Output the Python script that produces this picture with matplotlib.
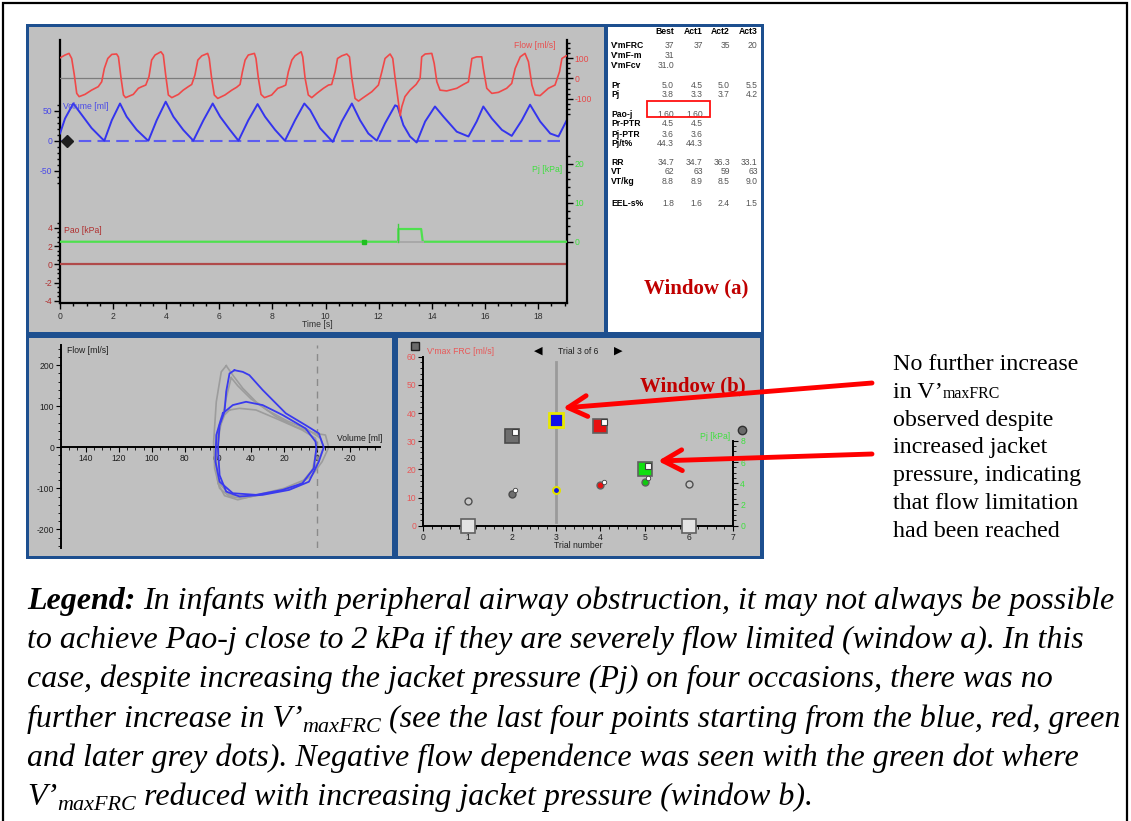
import matplotlib
matplotlib.use('Agg')
import matplotlib.pyplot as plt
from matplotlib.patches import Rectangle, FancyArrowPatch
from matplotlib.lines import Line2D
from matplotlib.ticker import FixedLocator
import matplotlib.transforms as mtransforms
import numpy as np

plt.rcParams['font.family'] = ['Liberation Sans', 'DejaVu Sans']
plt.rcParams['axes.unicode_minus'] = False

# ---------------- data ----------------
# waveform window (time in s)
flow_t = [0.00, 0.19, 0.34, 0.44, 0.54, 0.63, 0.72, 0.94, 1.19, 1.44,
          1.57, 1.67, 1.80, 1.95, 2.13, 2.20, 2.30, 2.39, 2.47, 2.76,
          2.95, 3.08, 3.23, 3.35, 3.45, 3.58, 3.80, 3.89, 3.98, 4.08,
          4.21, 4.46, 4.64, 4.83, 4.96, 5.08, 5.19, 5.34, 5.56, 5.62,
          5.71, 5.81, 5.94, 6.21, 6.47, 6.65, 6.78, 6.87, 6.97, 7.09,
          7.32, 7.38, 7.47, 7.57, 7.70, 7.97, 8.20, 8.37, 8.50, 8.60,
          8.73, 8.85, 9.08, 9.14, 9.23, 9.35, 9.48, 9.67, 9.92, 10.11,
          10.23, 10.36, 10.45, 10.61, 10.80, 10.90, 10.99, 11.11, 11.24, 11.42,
          11.74, 11.99, 12.12, 12.24, 12.43, 12.53, 12.62, 12.74, 12.81, 12.87,
          12.99, 13.18, 13.41, 13.56, 13.62, 13.75, 14.00, 14.09, 14.19, 14.31,
          14.56, 14.94, 15.19, 15.38, 15.51, 15.69, 15.88, 15.94, 16.07, 16.26,
          16.51, 16.82, 17.01, 17.14, 17.33, 17.51, 17.64, 17.77, 17.89, 18.08,
          18.39, 18.64, 18.81, 18.90, 19.06]
flow_ml_s = [101, 115, 123, 98, 16, -74, -90, -79, -58, -41,
             -17, 49, 98, 118, 120, 106, 0, -82, -95, -79,
             -49, -41, -33, 8, 90, 115, 131, 115, 16, -82,
             -95, -79, -58, -41, -30, 16, 90, 111, 123, 98,
             0, -82, -99, -82, -58, -44, -30, 33, 90, 115,
             123, 98, 0, -79, -95, -82, -49, -41, -33, 33,
             90, 111, 131, 106, 0, -82, -95, -74, -49, -33,
             -30, 33, 98, 111, 120, 106, 0, -99, -112, -95,
             -66, -33, 33, 98, 120, 98, 0, -115, -184, -140,
             -90, -58, -30, 0, 106, 120, 123, 74, -17, -58,
             -62, -49, -30, -17, 98, 106, 106, 49, -49, -74,
             -69, -49, -25, 49, 106, 123, 82, -33, -82, -85,
             -49, -33, 33, 98, 111]

vol_t = [0.00, 0.19, 0.50, 0.82, 1.19, 1.57, 1.67, 1.95, 2.26, 2.51,
         2.89, 3.27, 3.33, 3.64, 3.98, 4.27, 4.64, 5.02, 5.40, 5.75,
         6.03, 6.40, 6.72, 7.09, 7.44, 7.72, 8.10, 8.47, 8.85, 9.20,
         9.42, 9.79, 10.27, 10.61, 10.99, 11.30, 11.61, 11.93, 12.24, 12.62,
         12.71, 12.93, 13.18, 13.43, 13.75, 14.12, 14.44, 14.94, 15.38, 15.69,
         15.94, 16.26, 16.64, 17.01, 17.39, 17.70, 18.08, 18.46, 18.77, 19.08]
volume_ml = [12, 37, 62, 43, 21, 4, 0, 34, 62, 40,
             18, 2, 0, 34, 65, 40, 18, 0, 34, 62,
             40, 18, 0, 34, 61, 40, 18, 0, 34, 62,
             51, 21, -2, 32, 62, 34, 12, 0, 29, 59,
             57, 26, 7, -3, 32, 57, 40, 15, 7, 32,
             57, 37, 18, 8, 34, 60, 32, 12, 7, 34]

pj_t = [0.0, 12.74, 12.74, 13.60, 13.66, 19.08]
pj_kpa = [0.0, 0.0, 3.26, 3.26, 0.0, 0.0]
pj_marker_t = [11.46]
pao_t = [0.0, 19.08]
pao_kpa = [0.0, 0.0]
cursor_t = [0.27]

# flow-volume loops (volume ml, flow ml/s)
blue1_vol = [50, 45, 41, 33, 19, 7, -1, -4, -1, 5, 17, 33, 47, 55, 59, 60, 59, 56, 55, 53, 50]
blue1_flow = [188, 184, 176, 140, 83, 54, 34, 0, -35, -84, -104, -116, -120, -108, -68, -2, 54, 87, 136, 180, 188]
blue2_vol = [57, 51, 43, 33, 21, 7, 1, 0.5, 2, 9, 21, 37, 51, 59, 61.5, 61, 58, 57]
blue2_flow = [83, 103, 111, 103, 79, 46, 14, -2, -51, -88, -104, -116, -112, -84, -35, 30, 71, 83]
gray1_vol = [55, 51, 45, 37, 25, 13, 1, -5, -7, -3, 3, 13, 29, 45, 53, 59, 62, 62.6, 61, 58, 55]
gray1_flow = [199, 176, 144, 111, 75, 50, 34, 30, 0, -35, -68, -96, -112, -124, -120, -100, -51, 13, 111, 184, 199]
gray2_vol = [53, 47, 37, 23, 9, 1, 0, 3, 11, 25, 41, 53, 60, 62, 60, 56, 53]
gray2_flow = [91, 95, 91, 67, 42, 22, 0, -59, -92, -108, -120, -116, -84, -19, 38, 79, 91]
gray3_vol = [52, 48, 40, 30, 18, 6, -2, -4, 0, 8, 20, 34, 48, 56, 60, 61, 59, 55, 52]
gray3_flow = [170, 150, 118, 90, 64, 44, 22, 0, -40, -80, -100, -114, -128, -118, -88, -30, 40, 120, 170]

# trials window
trials = [1, 2, 3, 4, 5, 6]
vmax_frc = [0, 32, 37.5, 35.5, 20, 0]
pj_trial = [2.3, 3.0, 3.4, 3.8, 4.15, 3.95]
has_copy = [False, True, False, True, True, False]
selected_trial = 3
sq_face = ['#e2e2e2', '#6e6e6e', '#1010e8', '#e81010', '#10e010', '#e2e2e2']
sq_edge = ['#606060', '#4a4a4a', '#e8e800', '#606060', '#606060', '#606060']
ci_face = ['#c8c8c8', '#6e6e6e', '#1010e8', '#e81010', '#10c810', '#c8c8c8']
ci_edge = ['#505050', '#4a4a4a', '#e0e000', '#606060', '#606060', '#505050']

# table
tbl_header = ["Best", "Act1", "Act2", "Act3"]
tbl_rows = ["V'mFRC", "V'mF-m", "V'mFcv", "Pr", "Pj", "Pao-j", "Pr-PTR", "Pj-PTR",
            "Pj/t%", "RR", "VT", "VT/kg", "EEL-s%"]
tbl_vals = [["37", "37", "35", "20"],
            ["31", "", "", ""],
            ["31.0", "", "", ""],
            ["5.0", "4.5", "5.0", "5.5"],
            ["3.8", "3.3", "3.7", "4.2"],
            ["1.60", "1.60", "", ""],
            ["4.5", "4.5", "", ""],
            ["3.6", "3.6", "", ""],
            ["44.3", "44.3", "", ""],
            ["34.7", "34.7", "36.3", "33.1"],
            ["62", "63", "59", "63"],
            ["8.8", "8.9", "8.5", "9.0"],
            ["1.8", "1.6", "2.4", "1.5"]]

# rich text: each segment is (text, kind); kind 'n' normal, 's' subscript, 'b' bold
annot_lines = [[("No further increase", 'n')],
               [("in V\u2019", 'n'), ("maxFRC", 's')],
               [("observed despite", 'n')],
               [("increased jacket", 'n')],
               [("pressure, indicating", 'n')],
               [("that flow limitation", 'n')],
               [("had been reached", 'n')]]
legend_lines = [[("Legend:", 'b'), (" In infants with peripheral airway obstruction, it may not always be possible", 'n')],
                [("to achieve Pao-j close to 2 kPa if they are severely flow limited (window a). In this", 'n')],
                [("case, despite increasing the jacket pressure (Pj) on four occasions, there was no", 'n')],
                [("further increase in V\u2019", 'n'), ("maxFRC", 's'),
                 (" (see the last four points starting from the blue, red, green", 'n')],
                [("and later grey dots). Negative flow dependence was seen with the green dot where", 'n')],
                [("V\u2019", 'n'), ("maxFRC", 's'), (" reduced with increasing jacket pressure (window b).", 'n')]]

# ---------------- figure ----------------
W, H = 1131, 821
fig = plt.figure(figsize=(W / 100, H / 100), dpi=100)
fig.patch.set_facecolor('white')
R = fig.canvas.get_renderer()


def ax_px(l, t, r, b, label):
    return fig.add_axes([l / W, 1 - b / H, (r - l) / W, (b - t) / H], label=label)


def rect(l, t, r, b, **kw):
    p = Rectangle((l / W, 1 - b / H), (r - l) / W, (b - t) / H, transform=fig.transFigure, **kw)
    fig.add_artist(p)
    return p


def ftext(x, y, s, **kw):
    return fig.text(x / W, 1 - y / H, s, **kw)


def rich_line(x, y, segs, fs, sub_fs, sub_dy, style):
    cur = x
    for s, kind in segs:
        size = sub_fs if kind == 's' else fs
        space_w = 0.25 * size * 100 / 72
        lead = len(s) - len(s.lstrip(' '))
        trail = len(s) - len(s.rstrip(' '))
        cur += lead * space_w
        yy = y + (sub_dy if kind == 's' else 0)
        t = ftext(cur, yy, s.strip(), family='Liberation Serif', style=style,
                  weight='bold' if kind == 'b' else 'normal', fontsize=size,
                  color='black', ha='left', va='baseline')
        cur = t.get_window_extent(R).x1 + trail * space_w


# frame and panels
rect(3, 3, 1127, 900, fill=False, ec='black', lw=1.6, zorder=-11)
rect(26, 24, 764, 559, fc='#1d4f8f', ec='none', zorder=-10)
BG = '#c0c0c0'
rect(29, 27.5, 603.5, 332, fc=BG, ec='none', zorder=-9)
rect(608, 27.5, 761, 332, fc='white', ec='none', zorder=-9)
rect(29, 338, 391.5, 555.5, fc=BG, ec='none', zorder=-9)
rect(398, 338, 760, 555.5, fc=BG, ec='none', zorder=-9)

UI = dict(family=['Liberation Sans', 'DejaVu Sans'])
UFS = 6.2

# ---------------- waveform window ----------------
XMAX = 19.08
box = (60, 40, 566.7, 303)
ax_v = ax_px(*box, 'vol')
ax_pao = ax_px(*box, 'pao')
ax_f = ax_px(*box, 'flow')
ax_pj = ax_px(*box, 'pj')
for a in (ax_v, ax_pao, ax_f, ax_pj):
    a.set_facecolor('none')
    a.set_xlim(0, XMAX)
    for s in a.spines.values():
        s.set_visible(False)
    a.tick_params(which='both', direction='out', width=1, color='black', labelsize=UFS, pad=1.5)
    a.tick_params(which='major', length=4)
    a.tick_params(which='minor', length=2.5)
ax_v.set_ylim(-270.5, 167.8)
ax_pao.set_ylim(-4.25, 24.65)
ax_f.set_ylim(-1107, 189)
ax_pj.set_ylim(-15.7, 51.7)

ax_v.spines['left'].set_visible(True)
ax_v.spines['bottom'].set_visible(True)
ax_v.spines['left'].set_linewidth(1.6)
ax_v.spines['bottom'].set_linewidth(1.6)
ax_v.set_xticks(np.arange(0, 19, 2))
ax_v.xaxis.set_minor_locator(FixedLocator(np.arange(0, 19.01, 0.5)))
ax_v.tick_params(axis='x', labelcolor='#303030', pad=2.5)
ax_v.set_yticks([-50, 0, 50])
ax_v.yaxis.set_minor_locator(FixedLocator(np.arange(-70, 61, 10)))
ax_v.tick_params(axis='y', labelcolor='#4a4ae8')

ax_pao.tick_params(axis='x', which='both', bottom=False, labelbottom=False)
ax_pao.set_yticks([-4, -2, 0, 2, 4])
ax_pao.yaxis.set_minor_locator(FixedLocator(np.arange(-4.5, 4.6, 0.5)))
ax_pao.tick_params(axis='y', labelcolor='#b03030')

for a in (ax_f, ax_pj):
    a.tick_params(axis='x', which='both', bottom=False, labelbottom=False)
    a.yaxis.tick_right()
ax_f.spines['right'].set_visible(True)
ax_f.spines['right'].set_linewidth(1.6)
ax_f.set_yticks([-100, 0, 100])
ax_f.yaxis.set_minor_locator(FixedLocator(np.arange(-175, 176, 25)))
ax_f.tick_params(axis='y', labelcolor='#e84a4a')
ax_pj.set_yticks([0, 10, 20])
ax_pj.yaxis.set_minor_locator(FixedLocator(np.arange(0, 23, 2)))
ax_pj.tick_params(axis='y', labelcolor='#3ee03e')

ax_f.axhline(0, color='#7c7c7c', lw=0.9, zorder=1)
ax_f.plot(flow_t, flow_ml_s, color='#f04848', lw=1.2, zorder=3)
ax_v.axhline(0, color='#5c5cf0', lw=1.5, ls=(0, (6, 3)), zorder=2)
ax_v.plot(vol_t, volume_ml, color='#3434ee', lw=1.4, zorder=3)
ax_v.plot(cursor_t, [0], marker='D', ms=6.5, color='#1e1e1e', zorder=4, clip_on=False)
ax_pao.plot(pao_t, pao_kpa, color='#b04a4a', lw=1.6)
ax_pj.plot(pj_t, pj_kpa, color='#4ee04e', lw=1.6, zorder=3)
ax_pj.plot([pj_t[1], pj_t[4]], [0, 0], color='#a8a8a8', lw=1.4, zorder=4)
ax_pj.plot([pj_t[1], pj_t[1]], [0, 4.6], color='#3ed03e', lw=1.0, zorder=4)
ax_pj.plot(pj_marker_t, [0], marker='s', ms=2.5, color='#20c020', zorder=4)

ftext(555, 45, "Flow [ml/s]", color='#e85050', fontsize=UFS, ha='right', va='center', **UI)
ftext(63, 106.5, "Volume [ml]", color='#4a4ae8', fontsize=UFS, ha='left', va='center', **UI)
ftext(562, 169, "Pj [kPa]", color='#3ee03e', fontsize=UFS, ha='right', va='center', **UI)
ftext(64, 230.5, "Pao [kPa]", color='#b03030', fontsize=UFS, ha='left', va='center', **UI)
ftext(317, 324, "Time [s]", color='#303030', fontsize=UFS, ha='center', va='center', **UI)

# ---------------- table ----------------
col_right = [674, 702.7, 730, 757.7]
row_y = [45, 55, 65, 85, 94.5, 114.3, 124, 134, 143.3, 162.3, 171.7, 181.5, 204]
for j, h in enumerate(tbl_header):
    ftext(col_right[j], 31.5, h, fontsize=UFS, weight='bold', ha='right', va='center', color='black', **UI)
for i, lab in enumerate(tbl_rows):
    ftext(611, row_y[i], lab, fontsize=UFS, weight='bold', ha='left', va='center', color='black', **UI)
    for j, v in enumerate(tbl_vals[i]):
        if v:
            ftext(col_right[j], row_y[i], v, fontsize=UFS, ha='right', va='center', color='#555555', **UI)
rect(646.7, 101, 710.3, 117.3, fill=False, ec='#ff1010', lw=1.3, zorder=5)
ftext(696, 288, "Window (a)", family='Liberation Serif', weight='bold', fontsize=15,
      color='#c00000', ha='center', va='center')

# ---------------- flow-volume loops ----------------
ax_lp = ax_px(61, 345, 380, 548, 'loop')
ax_lp.set_facecolor('none')
ax_lp.set_xlim(154.9, -38)
ax_lp.set_ylim(-245.6, 249.5)
ax_lp.spines['top'].set_visible(False)
ax_lp.spines['right'].set_visible(False)
ax_lp.spines['bottom'].set_position(('data', 0))
for s in ('left', 'bottom'):
    ax_lp.spines[s].set_linewidth(1.4)
ax_lp.set_xticks([140, 120, 100, 80, 60, 40, 20, 0, -20])
ax_lp.xaxis.set_minor_locator(FixedLocator(np.arange(-35, 151, 5)))
ax_lp.set_yticks([-200, -100, 0, 100, 200])
ax_lp.yaxis.set_minor_locator(FixedLocator(np.arange(-240, 241, 20)))
ax_lp.tick_params(which='both', direction='out', labelsize=UFS, labelcolor='#202020', pad=1.5)
ax_lp.tick_params(which='major', length=3.5)
ax_lp.tick_params(which='minor', length=2)
ax_lp.axvline(0, color='#8a8a8a', lw=1.0, ls=(0, (5, 4)), zorder=1)
for v, f in ((gray1_vol, gray1_flow), (gray2_vol, gray2_flow), (gray3_vol, gray3_flow)):
    ax_lp.plot(v, f, color='#9c9c9c', lw=1.2, zorder=2)
for v, f in ((blue1_vol, blue1_flow), (blue2_vol, blue2_flow)):
    ax_lp.plot(v, f, color='#3a3aee', lw=1.3, zorder=3)
ax_lp.text(-26, 22, "Volume [ml]", fontsize=UFS, ha='center', va='center', color='#202020', **UI)
ax_lp.text(151, 237, "Flow [ml/s]", fontsize=UFS, ha='left', va='center', color='#202020', **UI)

# ---------------- trials window ----------------
ax_tr = ax_px(423.3, 356.7, 733.3, 525.7, 'trial')
ax_tr.set_facecolor('none')
ax_tr.set_xlim(0, 7)
ax_tr.set_ylim(0, 60)
ax_tr.spines['top'].set_visible(False)
ax_tr.spines['right'].set_visible(False)
for s in ('left', 'bottom'):
    ax_tr.spines[s].set_linewidth(1.4)
ax_tr.set_xticks(range(0, 8))
ax_tr.xaxis.set_minor_locator(FixedLocator(np.arange(0, 7.01, 0.2)))
ax_tr.set_yticks(range(0, 61, 10))
ax_tr.yaxis.set_minor_locator(FixedLocator(np.arange(0, 61, 2)))
ax_tr.tick_params(which='both', direction='out', labelsize=UFS, pad=1.5)
ax_tr.tick_params(which='major', length=3.5)
ax_tr.tick_params(which='minor', length=2)
ax_tr.tick_params(axis='y', labelcolor='#e85858')
ax_tr.tick_params(axis='x', labelcolor='#202020')

ax_tr2 = ax_tr.twinx()
ax_tr2.set_ylim(0, 15.94)
for s in ('left', 'top', 'bottom'):
    ax_tr2.spines[s].set_visible(False)
ax_tr2.spines['right'].set_bounds(0, 8)
ax_tr2.spines['right'].set_linewidth(1.4)
ax_tr2.set_yticks([0, 2, 4, 6, 8])
ax_tr2.yaxis.set_minor_locator(FixedLocator(np.arange(0, 8.01, 0.5)))
ax_tr2.tick_params(which='both', direction='out', labelsize=UFS, pad=1.5, labelcolor='#3ee03e')
ax_tr2.tick_params(which='major', length=3.5)
ax_tr2.tick_params(which='minor', length=2)

ax_tr.axvline(selected_trial, ymin=0.024, ymax=0.97, color='#9a9a9a', lw=2, zorder=1)

off = mtransforms.ScaledTranslation(3.5 / 100, 3.5 / 100, fig.dpi_scale_trans)
for i, tr in enumerate(trials):
    ax_tr.plot([tr], [vmax_frc[i]], marker='s', ms=10, mfc=sq_face[i], mec=sq_edge[i],
               mew=2.0 if tr == selected_trial else 1.2, clip_on=False, zorder=5)
    ax_tr2.plot([tr], [pj_trial[i]], marker='o', ms=5, mfc=ci_face[i], mec=ci_edge[i],
                mew=1.5 if tr == selected_trial else 1.0, clip_on=False, zorder=5)
    if has_copy[i]:
        ax_tr.plot([tr], [vmax_frc[i]], marker='s', ms=4.5, mfc='white', mec='#404040', mew=0.8,
                   transform=ax_tr.transData + off, clip_on=False, zorder=6)
        ax_tr2.plot([tr], [pj_trial[i]], marker='o', ms=3.2, mfc='white', mec='#404040', mew=0.6,
                    transform=ax_tr2.transData + off, clip_on=False, zorder=6)

ftext(427, 351, "V'max FRC [ml/s]", fontsize=UFS, color='#e85858', ha='left', va='center', **UI)
ftext(730, 436, "Pj [kPa]", fontsize=UFS, color='#3ee03e', ha='right', va='center', **UI)
ftext(578, 546, "Trial number", fontsize=UFS, color='#202020', ha='center', va='center', **UI)
ftext(578, 351, "Trial 3 of 6", fontsize=UFS, color='#202020', ha='center', va='center', **UI)
ftext(538, 351, "\u25C0", fontsize=8, color='black', ha='center', va='center', family='DejaVu Sans')
ftext(618, 351, "\u25B6", fontsize=8, color='black', ha='center', va='center', family='DejaVu Sans')
fig.add_artist(Line2D([415 / W], [1 - 346 / H], marker='s', ms=5.5, mfc='#6a6a6a', mec='#202020',
                      mew=1, transform=fig.transFigure))
fig.add_artist(Line2D([741.7 / W], [1 - 430 / H], marker='o', ms=6, mfc='#6a6a6a', mec='#303030',
                      mew=1, transform=fig.transFigure))
ftext(693, 386.5, "Window (b)", family='Liberation Serif', weight='bold', fontsize=15,
      color='#c00000', ha='center', va='center', zorder=7)

# ---------------- arrows & annotation ----------------
for (x0, y0), (x1, y1) in (((872, 383), (563, 408)), ((872, 454), (658, 461))):
    arr = FancyArrowPatch((x0 / W, 1 - y0 / H), (x1 / W, 1 - y1 / H), transform=fig.transFigure,
                          arrowstyle='->,head_length=0.62,head_width=0.34', mutation_scale=22,
                          lw=3.5, color='#ff0000', shrinkA=0, shrinkB=0, zorder=8)
    fig.add_artist(arr)

for i, segs in enumerate(annot_lines):
    rich_line(893, 370 + 27.8 * i, segs, fs=17.3, sub_fs=11.4, sub_dy=0.5, style='normal')

# ---------------- legend text ----------------
legend_base = [609, 648, 687.5, 727, 766, 805]
for i, segs in enumerate(legend_lines):
    rich_line(27, legend_base[i], segs, fs=23.0, sub_fs=15.9, sub_dy=4.5, style='italic')

fig.savefig('out.png', dpi=100)
